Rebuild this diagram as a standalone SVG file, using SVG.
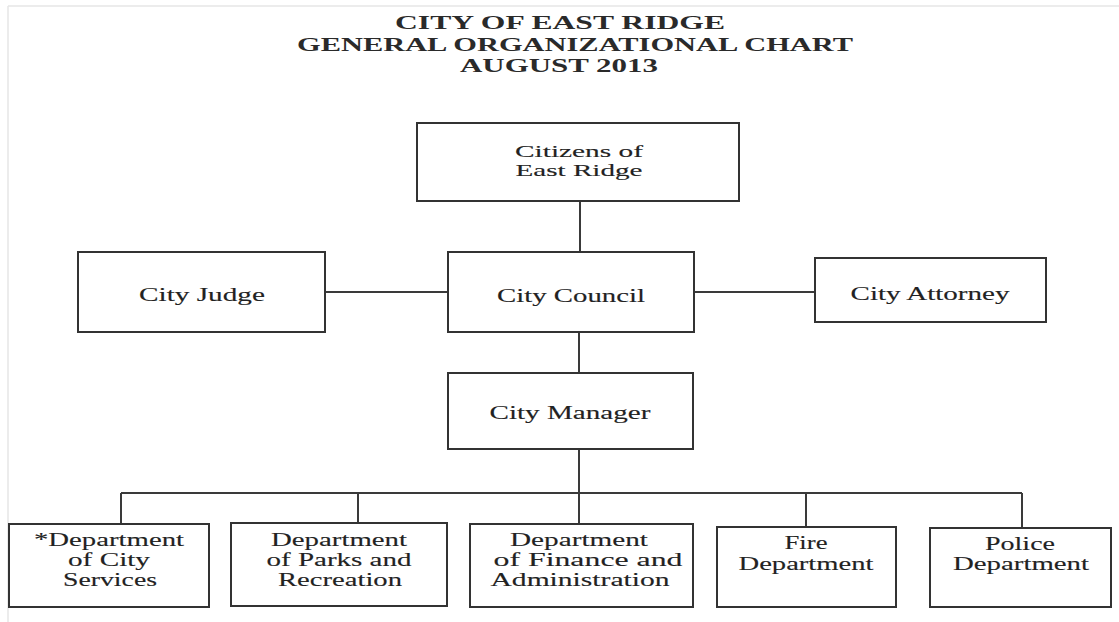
<svg xmlns="http://www.w3.org/2000/svg" width="1119" height="622" viewBox="0 0 1119 622">
<style>
.box{fill:#fff;stroke:#333;stroke-width:2}
.ln{stroke:#3a3a3a;stroke-width:2;fill:none}
.t{font-family:"Liberation Serif","Times New Roman",serif;font-size:18px;fill:#222;stroke:#222;stroke-width:0.12;text-anchor:middle}
.c{font-size:16.5px}
.h{font-family:"Liberation Serif","Times New Roman",serif;font-size:18.5px;font-weight:bold;fill:#2a2a2a;text-anchor:middle}
.frame{stroke:#e6e6e6;stroke-width:1.5;fill:none}
</style>
<rect width="1119" height="622" fill="#fff"/>
<path class="frame" d="M8 6 H1119 M8 6 V622"/>
<g id="title">
<text class="h" x="560" y="29" textLength="330" lengthAdjust="spacingAndGlyphs">CITY OF EAST RIDGE</text>
<text class="h" x="575" y="51" textLength="556" lengthAdjust="spacingAndGlyphs">GENERAL ORGANIZATIONAL CHART</text>
<text class="h" x="559" y="72" textLength="198" lengthAdjust="spacingAndGlyphs">AUGUST 2013</text>
</g>
<g id="connectors">
<path class="ln" d="M580 201 V252"/>
<path class="ln" d="M325 292 H448"/>
<path class="ln" d="M694 292 H815"/>
<path class="ln" d="M579 332 V373"/>
<path class="ln" d="M579 449 V524"/>
<path class="ln" d="M121 493 H1022"/>
<path class="ln" d="M121 493 V524"/>
<path class="ln" d="M358 493 V523"/>
<path class="ln" d="M806 493 V527"/>
<path class="ln" d="M1022 493 V528"/>
</g>
<g id="citizens">
<rect class="box" x="417" y="123" width="322" height="78"/>
<text class="t c" x="579" y="157" textLength="128" lengthAdjust="spacingAndGlyphs">Citizens of</text>
<text class="t c" x="579" y="175.5" textLength="127" lengthAdjust="spacingAndGlyphs">East Ridge</text>
</g>
<g id="city-judge">
<rect class="box" x="78" y="252" width="247" height="80"/>
<text class="t" x="202" y="301" textLength="126" lengthAdjust="spacingAndGlyphs">City Judge</text>
</g>
<g id="city-council">
<rect class="box" x="448" y="252" width="246" height="80"/>
<text class="t" x="571" y="302" textLength="148" lengthAdjust="spacingAndGlyphs">City Council</text>
</g>
<g id="city-attorney">
<rect class="box" x="815" y="258" width="231" height="64"/>
<text class="t" x="930" y="300" textLength="159" lengthAdjust="spacingAndGlyphs">City Attorney</text>
</g>
<g id="city-manager">
<rect class="box" x="448" y="373" width="245" height="76"/>
<text class="t" x="570" y="419" textLength="161" lengthAdjust="spacingAndGlyphs">City Manager</text>
</g>
<g id="dept-city-services">
<rect class="box" x="9" y="524" width="200" height="83"/>
<text class="t" x="109" y="546" textLength="150" lengthAdjust="spacingAndGlyphs">*Department</text>
<text class="t" x="109" y="566" textLength="82" lengthAdjust="spacingAndGlyphs">of City</text>
<text class="t" x="110" y="586" textLength="94" lengthAdjust="spacingAndGlyphs">Services</text>
</g>
<g id="dept-parks">
<rect class="box" x="231" y="523" width="216" height="83"/>
<text class="t" x="339" y="546" textLength="136" lengthAdjust="spacingAndGlyphs">Department</text>
<text class="t" x="339" y="566" textLength="145" lengthAdjust="spacingAndGlyphs">of Parks and</text>
<text class="t" x="340" y="586" textLength="124" lengthAdjust="spacingAndGlyphs">Recreation</text>
</g>
<g id="dept-finance">
<rect class="box" x="470" y="524" width="223" height="83"/>
<text class="t" x="579" y="546" textLength="138" lengthAdjust="spacingAndGlyphs">Department</text>
<text class="t" x="588" y="566" textLength="189" lengthAdjust="spacingAndGlyphs">of Finance and</text>
<text class="t" x="580" y="586" textLength="179" lengthAdjust="spacingAndGlyphs">Administration</text>
</g>
<g id="fire-dept">
<rect class="box" x="717" y="527" width="179" height="80"/>
<text class="t" x="806" y="549" textLength="43" lengthAdjust="spacingAndGlyphs">Fire</text>
<text class="t" x="806" y="570" textLength="135" lengthAdjust="spacingAndGlyphs">Department</text>
</g>
<g id="police-dept">
<rect class="box" x="930" y="528" width="181" height="79"/>
<text class="t" x="1020" y="550" textLength="70" lengthAdjust="spacingAndGlyphs">Police</text>
<text class="t" x="1021" y="570" textLength="136" lengthAdjust="spacingAndGlyphs">Department</text>
</g>
</svg>
